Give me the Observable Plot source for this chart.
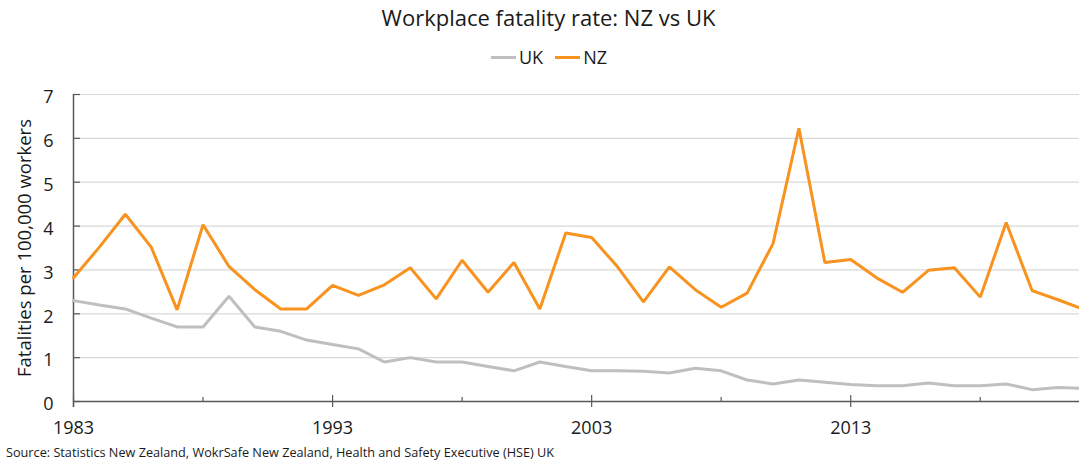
<!DOCTYPE html>
<html><head><meta charset="utf-8">
<script src="https://cdn.jsdelivr.net/npm/d3@7"></script>
<script src="https://cdn.jsdelivr.net/npm/@observablehq/plot@0.6"></script>
<style>
html,body{margin:0;padding:0;background:#fff;overflow:hidden;width:1079px;height:464px;font-family:"Open Sans",sans-serif;color:#1a1a1a}
#title{position:absolute;top:-1px;left:18px;width:1061px;text-align:center;font-size:22px;line-height:36px}
#legend{position:absolute;top:45px;left:491px;display:flex;align-items:center;font-size:18px;line-height:24px}
#legend .sw{display:inline-block;width:25px;height:3px;margin-right:3px}
#legend .item{display:flex;align-items:center;margin-right:12px}
#chart{position:absolute;top:80px;left:0}
#chart svg{overflow:hidden}
#source{position:absolute;left:6px;top:443px;font-size:12.7px;line-height:18px}
</style>
</head><body>
<div id="title">Workplace fatality rate: NZ vs UK</div>
<div id="legend"></div>
<div id="chart"></div>
<div id="source">Source: Statistics New Zealand, WokrSafe New Zealand, Health and Safety Executive (HSE) UK</div>
<script>
const years = [1983,1984,1985,1986,1987,1988,1989,1990,1991,1992,1993,1994,1995,1996,1997,1998,1999,2000,2001,2002,2003,2004,2005,2006,2007,2008,2009,2010,2011,2012,2013,2014,2015,2016,2017,2018,2019,2020,2021,2022];
const nz = [2.82,3.52,4.27,3.52,2.09,4.03,3.08,2.55,2.11,2.11,2.65,2.42,2.66,3.05,2.34,3.22,2.49,3.17,2.11,3.84,3.74,3.07,2.27,3.07,2.55,2.15,2.47,3.60,6.23,3.17,3.24,2.82,2.49,2.99,3.05,2.38,4.08,2.53,2.32,2.10];
const uk = [2.30,2.20,2.11,1.90,1.70,1.70,2.40,1.70,1.60,1.40,1.30,1.20,0.90,1.00,0.90,0.90,0.80,0.70,0.90,0.80,0.70,0.70,0.69,0.65,0.76,0.70,0.49,0.40,0.49,0.44,0.39,0.36,0.36,0.42,0.36,0.36,0.40,0.27,0.32,0.30];
const seriesNames = ["UK","NZ"];
const yTicks = [0,1,2,3,4,5,6,7];
const xMajorTicks = [1983,1993,2003,2013];
const xMinorTicks = [1988,1998,2008,2018];
const yLabel = "Fatalities per 100,000 workers";

const colors = {UK:"#bfbfbf", NZ:"#f7931e"};
const axisColor = "#595959";
const W = 1079, H = 363, mL = 73, mR = -4.4, mT = 14, mB = 42;
const frameW = W - mL - mR, frameH = H - mT - mB;

const ukData = years.map((y,i)=>({year:y, value:uk[i]}));
const nzData = years.map((y,i)=>({year:y, value:nz[i]}));

const legend = document.getElementById("legend");
for (const s of seriesNames) {
  const it = document.createElement("div"); it.className="item";
  const sw = document.createElement("span"); sw.className="sw"; sw.style.background = colors[s];
  it.appendChild(sw); it.appendChild(document.createTextNode(s));
  legend.appendChild(it);
}

const chart = Plot.plot({
  width: W, height: H,
  marginLeft: mL, marginRight: mR, marginTop: mT, marginBottom: mB,
  style: {fontFamily: "Open Sans, sans-serif", fontSize: "18px", color: "#1a1a1a", background: "#fff"},
  x: {domain: [1983, 2022]},
  y: {domain: [0, 7]},
  marks: [
    Plot.ruleY(yTicks.filter(d => d > 0), {stroke: "#d9d9d9", strokeWidth: 1.2}),
    Plot.tickY(yTicks, {stroke: axisColor, strokeWidth: 1.2, insetRight: frameW - 7}),
    Plot.ruleY([0], {stroke: axisColor, strokeWidth: 1.5}),
    Plot.ruleX([1983], {stroke: axisColor, strokeWidth: 1.5, insetBottom: -6}),
    Plot.tickX(xMajorTicks, {stroke: axisColor, strokeWidth: 1.2, insetTop: frameH - 6, insetBottom: -6}),
    Plot.tickX(xMinorTicks, {stroke: axisColor, strokeWidth: 1.2, insetTop: frameH - 4}),
    Plot.line(ukData, {x: "year", y: "value", stroke: colors.UK, strokeWidth: 3, strokeLinejoin: "miter"}),
    Plot.line(nzData, {x: "year", y: "value", stroke: colors.NZ, strokeWidth: 3, strokeLinejoin: "miter"}),
    Plot.axisX({ticks: xMajorTicks, tickFormat: "d", tickSize: 0, tickPadding: 20, label: null}),
    Plot.axisY({ticks: yTicks, tickFormat: "d", tickSize: 0, tickPadding: 20, dy: 3, label: null}),
    Plot.axisY({ticks: [], tickSize: 0, label: yLabel, labelAnchor: "center", labelArrow: "none", labelOffset: 56, fontSize: 18.5})
  ]
});
document.getElementById("chart").appendChild(chart);
</script>
</body></html>
